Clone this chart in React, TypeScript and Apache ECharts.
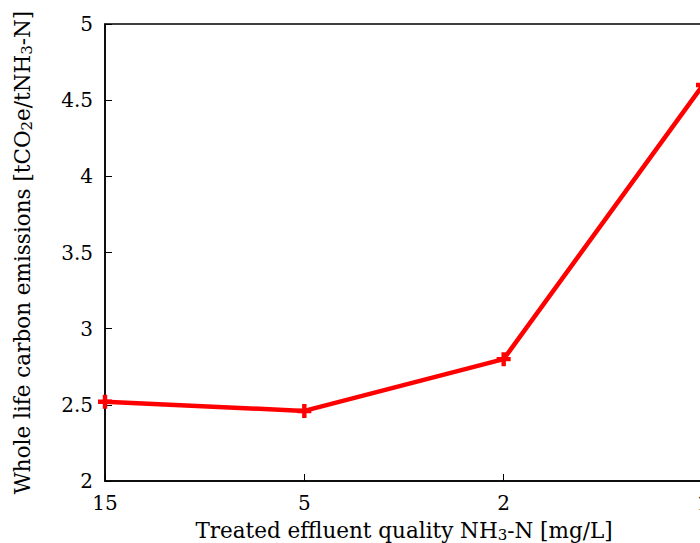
import React, { useEffect, useRef } from "react";
import * as echarts from "echarts";

const categories = ["15", "5", "2", "1"];
const emissions = [2.52, 2.46, 2.8, 4.6];
const yTicks = [2, 2.5, 3, 3.5, 4, 4.5, 5];

const FONT = "DejaVu Serif";

export default function App() {
  const ref = useRef<HTMLDivElement>(null);
  useEffect(() => {
    if (!ref.current) return;
    const chart = echarts.init(ref.current, undefined, { renderer: "svg" });
    chart.setOption({
      animation: false,
      backgroundColor: "#fff",
      textStyle: { fontFamily: FONT },
      grid: {
        left: 105,
        top: 24,
        width: 598,
        height: 457,
        outerBoundsMode: "none",
        containLabel: false,
        show: true,
        borderColor: "#000",
        borderWidth: 1.5,
        backgroundColor: "transparent",
      },
      xAxis: {
        type: "category",
        data: categories,
        boundaryGap: false,
        axisLine: { lineStyle: { color: "#000", width: 1.5 } },
        axisTick: { inside: true, length: 7, lineStyle: { color: "#000" } },
        axisLabel: { color: "#000", fontFamily: FONT, fontSize: 20, margin: 12 },
        splitLine: { show: false },
        name: "{a|Treated effluent quality NH}{s|3}{a|-N [mg/L]}",
        nameLocation: "middle",
        nameGap: 36,
        nameTextStyle: {
          fontFamily: FONT,
          rich: {
            a: { color: "#000", fontFamily: FONT, fontSize: 21.5, lineHeight: 24 },
            s: { color: "#000", fontFamily: FONT, fontSize: 15, lineHeight: 24, padding: [10, 0, 0, 0] },
          },
        },
      },
      yAxis: {
        type: "value",
        min: 2,
        max: 5,
        interval: 0.5,
        axisLine: { show: true, lineStyle: { color: "#000", width: 1.5 } },
        axisTick: { show: true, inside: true, length: 7, lineStyle: { color: "#000" } },
        axisLabel: {
          color: "#000",
          fontFamily: FONT,
          fontSize: 20,
          margin: 12,
          formatter: (v: number) => (yTicks.includes(v) ? String(v) : ""),
        },
        splitLine: { show: false },
        name: "{a|Whole life carbon emissions [tCO}{s|2}{a|e/tNH}{s|3}{a|-N]}",
        nameLocation: "middle",
        nameGap: 71,
        nameRotate: 90,
        nameTextStyle: {
          fontFamily: FONT,
          rich: {
            a: { color: "#000", fontFamily: FONT, fontSize: 21.5, lineHeight: 24 },
            s: { color: "#000", fontFamily: FONT, fontSize: 15, lineHeight: 24, padding: [10, 0, 0, 0] },
          },
        },
      },
      series: [
        {
          type: "line",
          data: emissions,
          lineStyle: { color: "#ff0000", width: 4.5 },
          itemStyle: { color: "#ff0000", borderColor: "#ff0000", borderWidth: 2 },
          symbol: "path://M4,0H6V4H10V6H6V10H4V6H0V4H4Z",
          symbolSize: 12,
          showSymbol: true,
          clip: false,
        },
      ],
    });
    return () => chart.dispose();
  }, []);
  return (
    <div
      ref={ref}
      style={{ position: "fixed", left: 0, top: 0, width: 700, height: 543 }}
    />
  );
}
